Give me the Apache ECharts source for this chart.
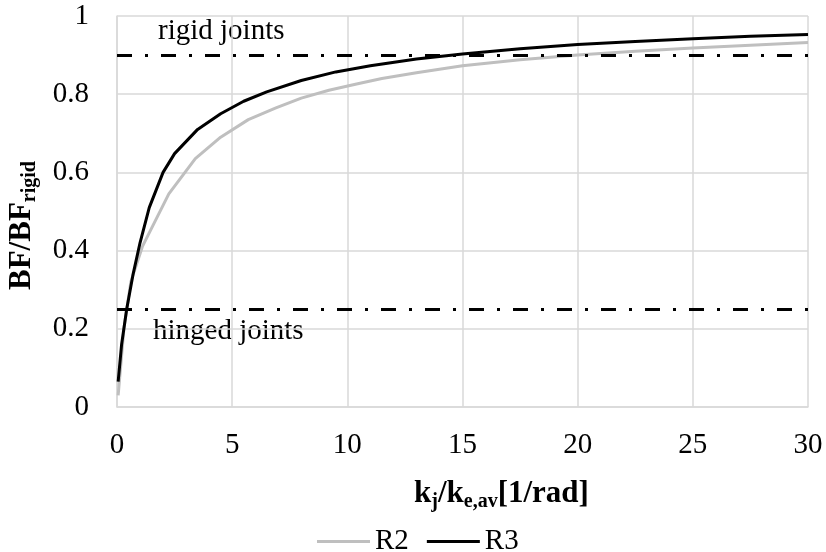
<!DOCTYPE html>
<html>
<head>
<meta charset="utf-8">
<script src="https://cdn.jsdelivr.net/npm/echarts@6/dist/echarts.min.js"></script>
<style>
  html, body { margin: 0; padding: 0; background: #fff; }
  #chart { width: 826px; height: 552px; }
</style>
</head>
<body>
<div id="chart"></div>
<script>
// k_j/k_e,av values and BF/BF_rigid
const r2X = [0.05, 0.3, 0.6, 1.1, 2.25, 3.4, 4.5, 5.7, 6.9, 8.0, 9.2, 10.4, 11.5, 13, 15, 17.5, 20, 22.5, 25, 27.5, 30];
const r2Y = [0.03, 0.2, 0.32, 0.41, 0.545, 0.635, 0.69, 0.735, 0.765, 0.79, 0.81, 0.826, 0.84, 0.855, 0.873, 0.888, 0.9, 0.91, 0.918, 0.925, 0.932];
const r3X = [0.05, 0.2, 0.42, 0.7, 1.0, 1.4, 2.0, 2.5, 3.5, 4.5, 5.5, 6.5, 8, 9.5, 11, 13, 15, 17.5, 20, 22.5, 25, 27.5, 30];
const r3Y = [0.065, 0.16, 0.25, 0.34, 0.42, 0.51, 0.6, 0.648, 0.71, 0.75, 0.782, 0.806, 0.835, 0.857, 0.873, 0.89, 0.903, 0.916, 0.927, 0.935, 0.942, 0.948, 0.953];
const rigidLimit = 0.9;
const hingedLimit = 0.25;

const font = "'Liberation Serif', 'Times New Roman', serif";
const fs = 29;
const gridColor = '#d9d9d9';
const dashDot = [15, 13, 3, 13];

const pairs = (xs, ys) => xs.map((x, i) => [x, ys[i]]);

const titleRich = {
  m: { fontSize: 31, fontWeight: 'bold', fontFamily: font, fill: '#000', verticalAlign: 'middle', lineHeight: 36 },
  s: { fontSize: 20, fontWeight: 'bold', fontFamily: font, fill: '#000', verticalAlign: 'bottom', padding: [14, 0, 0, 0], lineHeight: 22 }
};

const chart = echarts.init(document.getElementById('chart'));
chart.setOption({
  animation: false,
  textStyle: { fontFamily: font, color: '#000' },
  grid: { left: 117, right: 18, top: 16, bottom: 145 },
  xAxis: {
    type: 'value', min: 0, max: 30, interval: 5,
    axisLine: { lineStyle: { color: gridColor, width: 1.5 } },
    axisTick: { show: false },
    axisLabel: { color: '#000', fontSize: fs, fontFamily: font, margin: 24 },
    splitLine: { lineStyle: { color: gridColor, width: 1.5 } }
  },
  yAxis: {
    type: 'value', min: 0, max: 1, interval: 0.2,
    axisLine: { show: true, lineStyle: { color: gridColor, width: 1.5 } },
    axisTick: { show: false },
    axisLabel: { color: '#000', fontSize: fs, fontFamily: font, margin: 28 },
    splitLine: { lineStyle: { color: gridColor, width: 1.5 } }
  },
  legend: {
    left: 312, top: 522,
    icon: 'rect', itemWidth: 53, itemHeight: 3, itemGap: 18,
    textStyle: { fontSize: fs, fontFamily: font, color: '#000' },
    data: ['R2', 'R3']
  },
  series: [
    {
      name: 'R2', type: 'line', data: pairs(r2X, r2Y),
      showSymbol: false, color: '#bfbfbf',
      lineStyle: { width: 3, color: '#bfbfbf' },
      markLine: {
        silent: true, symbol: 'none', label: { show: false },
        lineStyle: { color: '#000', width: 3, type: dashDot },
        data: [{ yAxis: rigidLimit }, { yAxis: hingedLimit }]
      }
    },
    {
      name: 'R3', type: 'line', data: pairs(r3X, r3Y),
      showSymbol: false, color: '#000',
      lineStyle: { width: 3, color: '#000' }
    }
  ],
  graphic: [
    {
      type: 'text', left: 158, top: 17,
      style: { text: 'rigid joints', font: fs + 'px ' + font, fill: '#000' }
    },
    {
      type: 'text', left: 153, top: 317,
      style: { text: 'hinged joints', font: fs + 'px ' + font, fill: '#000' }
    },
    {
      type: 'text', left: 414, top: 478,
      style: { text: '{m|k}{s|j}{m|/k}{s|e,av}{m|[1/rad]}', rich: titleRich }
    },
    {
      type: 'text', x: 4, y: 290, rotation: Math.PI / 2,
      style: { text: '{m|BF/BF}{s|rigid}', rich: titleRich }
    }
  ]
});
</script>
</body>
</html>
